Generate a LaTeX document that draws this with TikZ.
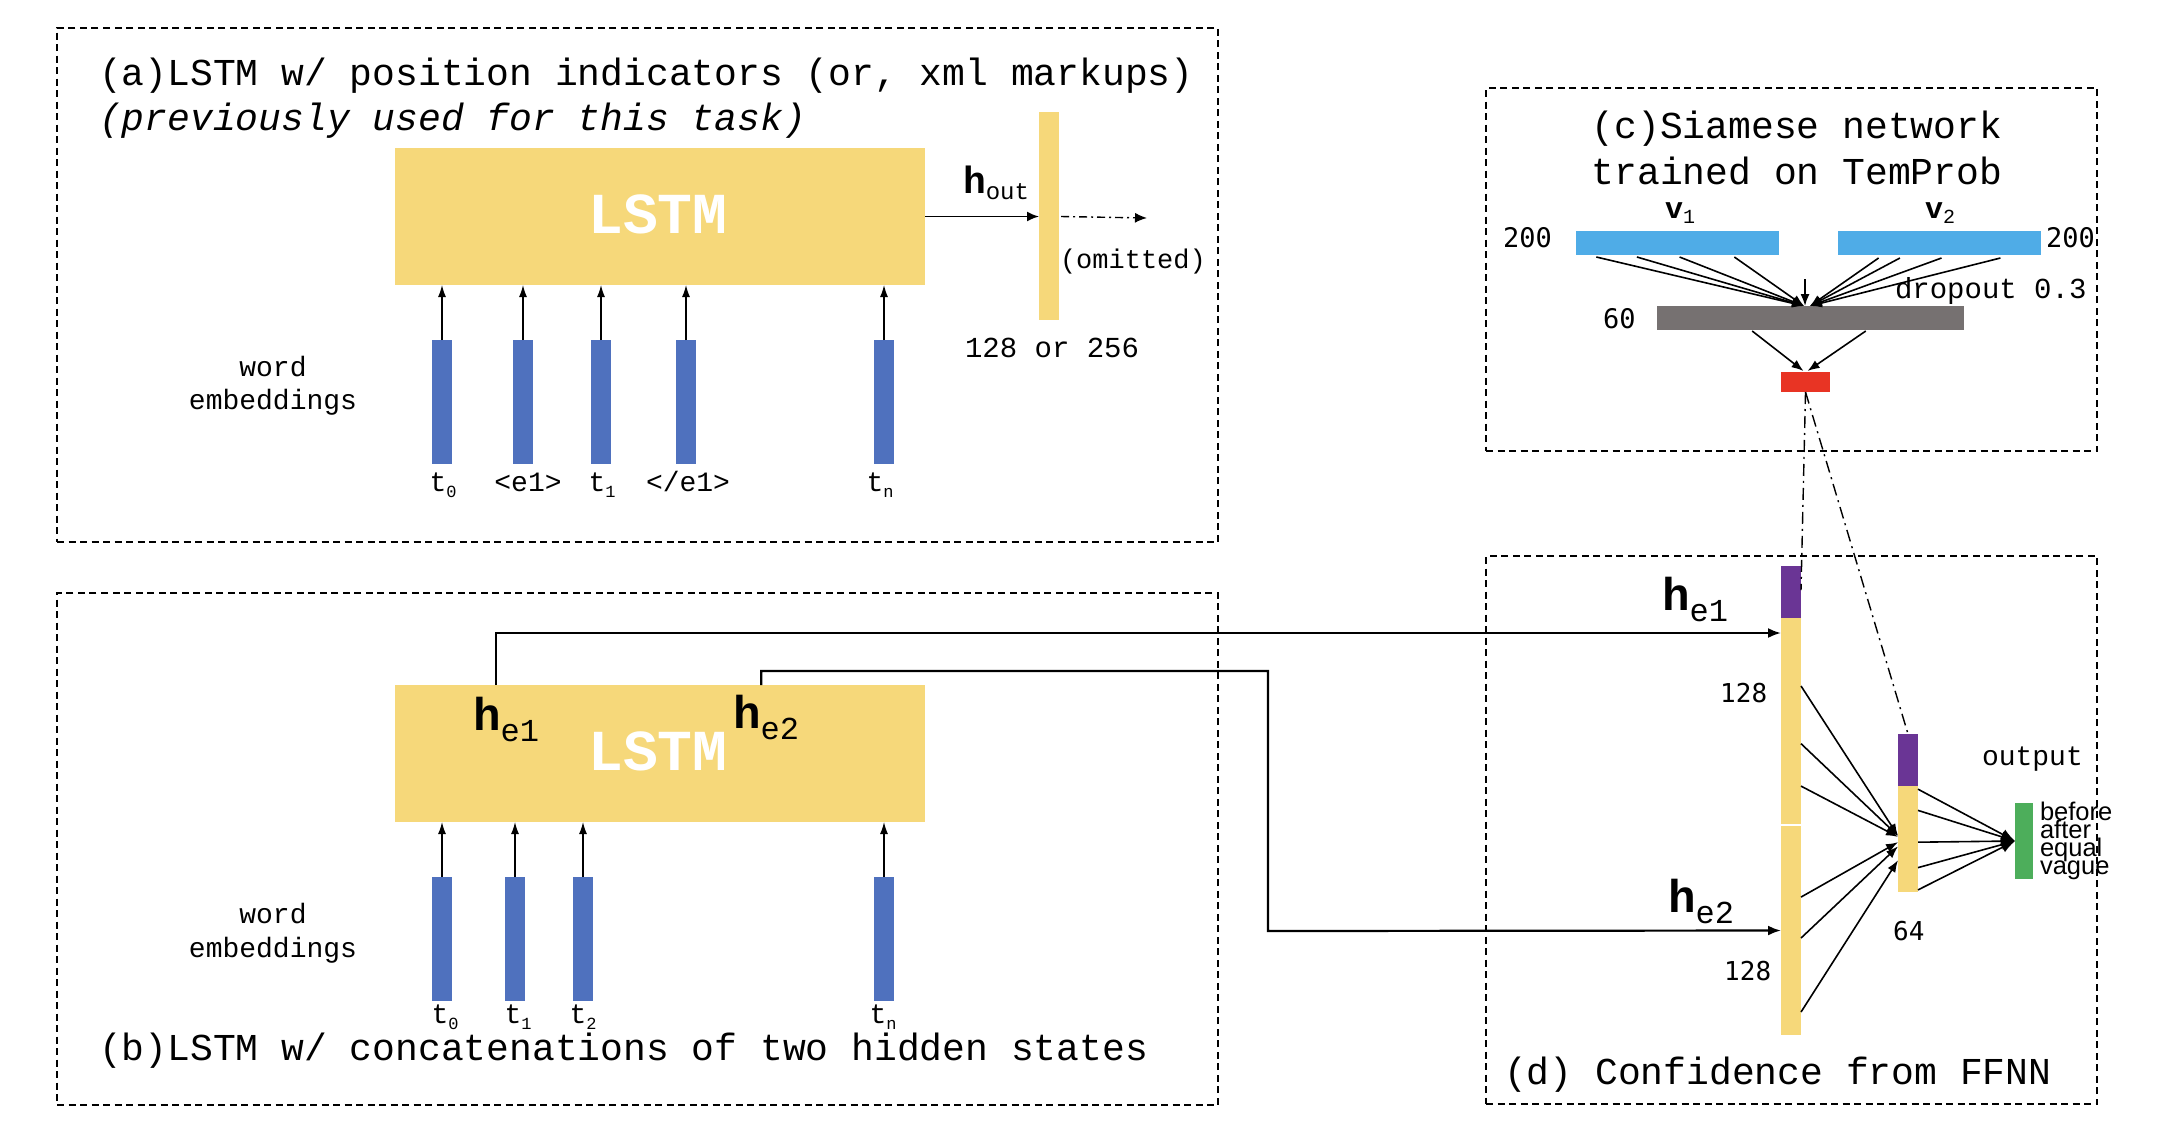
\documentclass[tikz,border=0pt]{standalone}
\usepackage{fontspec}
\setmainfont{Liberation Mono}
\newfontfamily\smono{DejaVu Sans Mono}
\newfontfamily\hsans{Liberation Sans}
\usetikzlibrary{arrows.meta,calc}
\definecolor{yel}{HTML}{F6D87A}
\definecolor{barblue}{HTML}{4F71BE}
\definecolor{lblue}{HTML}{4FACE7}
\definecolor{gry}{HTML}{767171}
\definecolor{redb}{HTML}{E83424}
\definecolor{purp}{HTML}{6A3595}
\definecolor{grn}{HTML}{4DAE5B}
\newcommand\myfs[1]{\fontsize{#1}{#1}\selectfont}
\newcommand\tk[1]{\myfs{28}t\raisebox{-6pt}{\myfs{17}#1}}
\newcommand\hlab[1]{\myfs{46}\bfseries h\raisebox{-11pt}{\myfs{32}\mdseries #1}}
\begin{document}
\begin{tikzpicture}[x=1pt,y=-1pt,
  blk/.style={inner sep=0pt, outer sep=0pt, anchor=north west, draw=none},
  panel/.style={draw=black, line width=1.6pt, dash pattern=on 7pt off 4.5pt},
  lbl/.style={inner sep=0pt, outer sep=0pt, anchor=base west},
  clbl/.style={inner sep=0pt, outer sep=0pt, anchor=base},
  sarr/.style={line width=1.3pt, -{Latex[length=12pt,width=8pt]}},
  harr/.style={line width=2.2pt, -{Latex[length=13pt,width=10pt]}},
  carr/.style={line width=1.6pt, -{Latex[length=12pt,width=9pt]}},
  dashdot/.style={line width=1.4pt, dash pattern=on 12pt off 5pt on 2pt off 5pt},
]
\useasboundingbox[fill=white] (0,0) rectangle (2178,1128);

% ---------------- panels
\node[blk, panel, minimum width=1161pt, minimum height=514pt] (panA) at (57,28) {};
\node[blk, panel, minimum width=1161pt, minimum height=512pt] (panB) at (57,593) {};
\node[blk, panel, minimum width=611pt, minimum height=363pt] (panC) at (1486,88) {};
\node[blk, panel, minimum width=611pt, minimum height=548pt] (panD) at (1486,556) {};

% ---------------- (a)
\node[lbl] (titA1) at (99,85) {\myfs{38}(a)LSTM w/ position indicators (or, xml markups)};
\node[lbl] (titA2) at (99,130) {\myfs{38}\itshape (previously used for this task)};
\node[blk, fill=yel, minimum width=530pt, minimum height=137pt] (lstmA) at (395,148) {};
\node[clbl, text=white] (lstmAt) at (658,233) {\myfs{58}\bfseries LSTM};
\node[blk, fill=yel, minimum width=20pt, minimum height=208pt] (barOut) at (1039,112) {};
\node[lbl] (hout) at (963,193) {\myfs{38}\bfseries h\raisebox{-6pt}{\myfs{24}\mdseries out}};
\node[lbl] (omit) at (1060,268) {\myfs{27}(omitted)};
\node[lbl] (dimA) at (965,357) {\myfs{29}128 or 256};
\draw[line width=1.8pt, -{Latex[length=12pt,width=10pt]}] (lstmA.east) -- (lstmA.east -| barOut.west);
\coordinate (omEnd) at (1147,218);
\draw[line width=1.4pt, dash pattern=on 8pt off 4pt on 2pt off 4pt, -{Latex[length=12pt,width=10pt]}] ($(barOut.west |- lstmA.east)+(22,0)$) -- (omEnd);

\node[blk, fill=barblue, minimum width=20pt, minimum height=124pt] (a0) at (432,340) {};
\node[blk, fill=barblue, minimum width=20pt, minimum height=124pt] (a1) at (513,340) {};
\node[blk, fill=barblue, minimum width=20pt, minimum height=124pt] (a2) at (591,340) {};
\node[blk, fill=barblue, minimum width=20pt, minimum height=124pt] (a3) at (676,340) {};
\node[blk, fill=barblue, minimum width=20pt, minimum height=124pt] (a4) at (874,340) {};
\foreach \b in {a0,a1,a2,a3,a4} \draw[sarr] (\b.north) -- (\b.north |- lstmA.south);
\node[clbl] (la0) at ($(a0.south)+(1,27)$) {\tk{0}};
\node[clbl] (la1) at ($(a1.south)+(5,27)$) {\myfs{28}<e1>};
\node[clbl] (la2) at ($(a2.south)+(1,27)$) {\tk{1}};
\node[clbl] (la3) at ($(a3.south)+(2,27)$) {\myfs{28}</e1>};
\node[clbl] (la4) at ($(a4.south)+(-4,27)$) {\tk{n}};
\node[clbl] (wordA) at (273,376) {\myfs{28}word};
\node[clbl] (embA) at (273,409) {\myfs{28}embeddings};

% ---------------- (b)
\node[lbl] (titB) at (99,1060) {\myfs{38}(b)LSTM w/ concatenations of two hidden states};
\node[blk, fill=yel, minimum width=530pt, minimum height=137pt] (lstmB) at (395,685) {};
\node[clbl, text=white] (lstmBt) at (658,770) {\myfs{58}\bfseries LSTM};
\node[lbl] (he1B) at (473,730) {\hlab{e1}};
\node[lbl] (he2B) at (733,728) {\hlab{e2}};
\node[blk, fill=barblue, minimum width=20pt, minimum height=124pt] (b0) at (432,877) {};
\node[blk, fill=barblue, minimum width=20pt, minimum height=124pt] (b1) at (505,877) {};
\node[blk, fill=barblue, minimum width=20pt, minimum height=124pt] (b2) at (573,877) {};
\node[blk, fill=barblue, minimum width=20pt, minimum height=124pt] (b3) at (874,877) {};
\foreach \b in {b0,b1,b2,b3} \draw[sarr] (\b.north) -- (\b.north |- lstmB.south);
\node[clbl] (lb0) at ($(b0.south)+(3,22)$) {\tk{0}};
\node[clbl] (lb1) at ($(b1.south)+(3,22)$) {\tk{1}};
\node[clbl] (lb2) at ($(b2.south)+(0,22)$) {\tk{2}};
\node[clbl] (lb3) at ($(b3.south)+(-1,22)$) {\tk{n}};
\node[clbl] (wordB) at (273,923) {\myfs{28}word};
\node[clbl] (embB) at (273,957) {\myfs{28}embeddings};

% ---------------- (c)
\node[clbl] (titC1) at (1797,138) {\myfs{38}(c)Siamese network};
\node[clbl] (titC2) at (1797,184) {\myfs{38}trained on TemProb};
\node[blk, fill=lblue, minimum width=203pt, minimum height=24pt] (v1) at (1576,231) {};
\node[blk, fill=lblue, minimum width=203pt, minimum height=24pt] (v2) at (1838,231) {};
\node[blk, fill=gry, minimum width=307pt, minimum height=24pt] (gray) at (1657,306) {};
\node[blk, fill=redb, minimum width=49pt, minimum height=20pt] (red) at (1781,372) {};
\node[lbl] (v1t) at (1665,218) {\myfs{30}\bfseries v\raisebox{-5pt}{\myfs{20}\mdseries 1}};
\node[lbl] (v2t) at (1925,218) {\myfs{30}\bfseries v\raisebox{-5pt}{\myfs{20}\mdseries 2}};
\node[inner sep=0pt, anchor=west] (n200a) at (1503,238) {\smono\myfs{27}200};
\node[inner sep=0pt, anchor=west] (n200b) at (2046,238) {\smono\myfs{27}200};
\node[inner sep=0pt, anchor=west] (n60) at (1603,319) {\smono\myfs{27}60};
\node[lbl] (drop) at (1895,298) {\myfs{29}dropout 0.3};
\foreach \f in {0.10,0.30,0.51,0.78}
  \draw[carr] ($(v1.south west)!\f!(v1.south east)+(0,2)$) -- ($(gray.north west)!0.479!(gray.north east)$);
\foreach \f in {0.20,0.305,0.51,0.80}
  \draw[carr] ($(v2.south west)!\f!(v2.south east)+(0,3)$) -- ($(gray.north west)!0.498!(gray.north east)$);
\coordinate (vtop) at (1805,279);
\draw[carr] (vtop) -- (vtop |- gray.north);
\draw[carr] ($(gray.south west)!0.31!(gray.south east)+(0,1)$) -- ($(red.north)+(-2,-1)$);
\draw[carr] ($(gray.south west)!0.68!(gray.south east)+(0,1)$) -- ($(red.north)+(2,-1)$);

% ---------------- (d)
\node[lbl] (titD) at (1504,1084) {\myfs{38}(d) Confidence from FFNN};
\node[blk, fill=purp, minimum width=20pt, minimum height=52pt] (tallP) at (1781,566) {};
\node[blk, fill=yel, minimum width=20pt, minimum height=206pt] (tallU) at (1781,618) {};
\node[blk, fill=yel, minimum width=20pt, minimum height=209pt] (tallL) at (1781,826) {};
\node[blk, fill=purp, minimum width=20pt, minimum height=52pt] (smallP) at (1898,734) {};
\node[blk, fill=yel, minimum width=20pt, minimum height=106pt] (smallY) at (1898,786) {};
\node[blk, fill=grn, minimum width=18pt, minimum height=76pt] (green) at (2015,803) {};
\node[lbl] (he1D) at (1662,610) {\hlab{e1}};
\node[lbl] (he2D) at (1668,912) {\hlab{e2}};
\node[inner sep=0pt, anchor=west] (n128a) at (1720,693) {\smono\myfs{26}128};
\node[inner sep=0pt, anchor=west] (n128b) at (1724,971) {\smono\myfs{26}128};
\node[inner sep=0pt, anchor=west] (n64) at (1893,931) {\smono\myfs{26}64};
\node[lbl] (outp) at (1982,765) {\myfs{28}output};
\node[lbl] (cl1) at (2040,820) {\hsans\myfs{25.5}before};
\node[lbl] (cl2) at (2040,838) {\hsans\myfs{25.5}after};
\node[lbl] (cl3) at (2040,856) {\hsans\myfs{25.5}equal};
\node[lbl] (cl4) at (2040,874) {\hsans\myfs{25.5}vague};

\foreach \a/\b in {0.33/0.47,0.61/0.47,0.816/0.48}
  \draw[carr] ($(tallU.north east)!\a!(tallU.south east)$) -- ($(smallY.north west)!\b!(smallY.south west)$);
\foreach \a/\b in {0.34/0.53,0.536/0.57,0.89/0.70}
  \draw[carr] ($(tallL.north east)!\a!(tallL.south east)$) -- ($(smallY.north west)!\b!(smallY.south west)$);
\foreach \a in {0.03,0.23,0.53,0.77,0.98}
  \draw[line width=1.6pt, -{Latex[length=14pt,width=11pt]}] ($(smallY.north east)!\a!(smallY.south east)$) -- (green.west);

% cross-panel connectors
\draw[harr] ($(lstmB.north west)!0.19!(lstmB.north east)$) |- ($(tallU.north west)+(0,15)$);
\draw[harr] ($(lstmB.north west)!0.691!(lstmB.north east)$) -- ++(0,-14) -| (1268,931) -- (tallL.west);
\draw[dashdot] (red.south) -- ($(tallP.north east)+(0,24)$);
\draw[dashdot] (red.south) -- (smallP.north);
\end{tikzpicture}
\end{document}
